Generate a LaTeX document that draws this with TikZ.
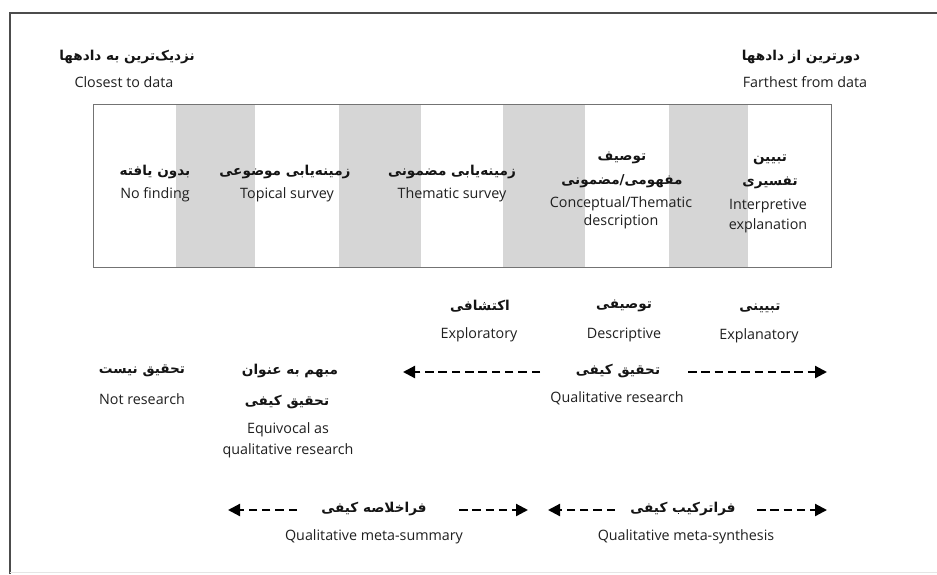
\documentclass[tikz,border=0pt]{standalone}
\usepackage{fontspec}
\setmainfont{Open Sans}
\newfontfamily\persfont[Script=Arabic]{DejaVu Sans}
\TeXXeTstate=1
\usetikzlibrary{arrows.meta}
\newcommand\prs[1]{\beginR #1\endR}
\begin{document}
\begin{tikzpicture}[x=1pt,y=-1pt,
  en/.style={font=\fontsize{14.3}{16}\selectfont, text=black!88, inner sep=0pt, anchor=center},
  fa/.style={font=\persfont\bfseries\fontsize{13.6}{17}\selectfont, text=black!92, inner sep=0pt, anchor=center},
  band/.style={fill=black!16, draw=none},
  boxline/.style={draw=black!55, line width=1pt},
  darr/.style={line width=2.2pt, dash pattern=on 8.5pt off 4.8pt, -{Triangle[length=12pt,width=12pt]}},
  frameline/.style={draw=black!70, line width=2pt}]
\useasboundingbox (0,0) rectangle (937,574);
\fill[white] (0,0) rectangle (937,574);
% outer frame
\draw[frameline] (10,574) -- (10,13) -- (937,13);
\draw[black!10, line width=1pt] (10,572.5) -- (937,572.5);

% top labels
\node[fa] (closeFa) at (127,57) {\prs{نزدیک‌ترین به دادهها}};
\node[en] (closeEn) at (124,82) {Closest to data};
\node[fa] (farFa) at (801,57) {\prs{دورترین از دادهها}};
\node[en] (farEn) at (805,82) {Farthest from data};

% box with bands
\fill[band] (176,104) rectangle (255,267);
\fill[band] (339,104) rectangle (421,267);
\fill[band] (503,104) rectangle (585,267);
\fill[band] (669,104) rectangle (748,267);
\draw[boxline] (93,104) rectangle (831,267);

\node[fa] (nofFa) at (155,172) {\prs{بدون یافته}};
\node[en] (nofEn) at (155,195) {No finding};
\node[fa] (topFa) at (285,172) {\prs{زمینه‌یابی موضوعی}};
\node[en] (topEn) at (287,195) {Topical survey};
\node[fa] (thmFa) at (452,172) {\prs{زمینه‌یابی مضمونی}};
\node[en] (thmEn) at (452,195) {Thematic survey};
\node[fa] (conFaA) at (622,158) {\prs{توصیف}};
\node[fa] (conFaB) at (622,181) {\prs{مفهومی\kern0pt/\kern0pt مضمونی}};
\node[en] (conEnA) at (621,204) {Conceptual/Thematic};
\node[en] (conEnB) at (621,222) {description};
\node[fa] (intFaA) at (770,160) {\prs{تبیین}};
\node[fa] (intFaB) at (770,183) {\prs{تفسیری}};
\node[en] (intEnA) at (768,206) {Interpretive};
\node[en] (intEnB) at (768,226) {explanation};

% middle row
\node[fa] (expFa) at (480,306) {\prs{اکتشافی}};
\node[en] (expEn) at (479,335) {Exploratory};
\node[fa] (desFa) at (624,306) {\prs{توصیفی}};
\node[en] (desEn) at (624,335) {Descriptive};
\node[fa] (eplFa) at (760,308) {\prs{تبیینی}};
\node[en] (eplEn) at (759,336) {Explanatory};
\node[fa] (qrFa) at (618,371) {\prs{تحقیق کیفی}};
\node[en] (qrEn) at (617,398) {Qualitative research};
\node[fa] (nrFa) at (142,371) {\prs{تحقیق نیست}};
\node[en] (nrEn) at (142,399) {Not research};
\node[fa] (eqFaA) at (290,371) {\prs{مبهم به عنوان}};
\node[fa] (eqFaB) at (287,402) {\prs{تحقیق کیفی}};
\node[en] (eqEnA) at (288,430) {Equivocal as};
\node[en] (eqEnB) at (288,451) {qualitative research};

\coordinate (qrL) at (540,372);
\coordinate (qrLtip) at (403,372);
\coordinate (qrR) at (688,372);
\coordinate (qrRtip) at (827,372);
\draw[darr] (qrL) -- (qrLtip);
\draw[darr] (qrR) -- (qrRtip);

% bottom row
\node[fa] (msFa) at (374,509) {\prs{فراخلاصه کیفی}};
\node[en] (msEn) at (374,537) {Qualitative meta-summary};
\node[fa] (mySFa) at (683,509) {\prs{فراترکیب کیفی}};
\node[en] (mySEn) at (686,537) {Qualitative meta-synthesis};

\coordinate (msL) at (297,510);
\coordinate (msLtip) at (228,510);
\coordinate (msR) at (459,510);
\coordinate (msRtip) at (528,510);
\coordinate (syL) at (615,510);
\coordinate (syLtip) at (548,510);
\coordinate (syR) at (757,510);
\coordinate (syRtip) at (827,510);
\draw[darr] (msL) -- (msLtip);
\draw[darr] (msR) -- (msRtip);
\draw[darr] (syL) -- (syLtip);
\draw[darr] (syR) -- (syRtip);
\end{tikzpicture}
\end{document}
